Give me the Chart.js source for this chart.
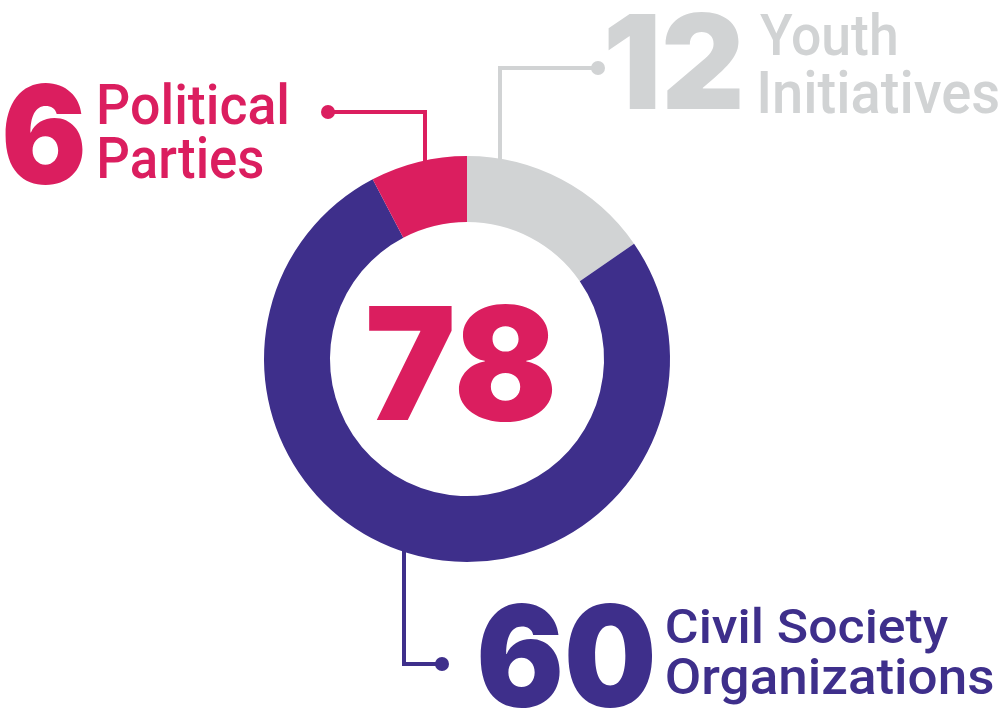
<!DOCTYPE html>
<html>
<head>
<meta charset="utf-8">
<script src="https://cdn.jsdelivr.net/npm/chart.js@4.4.1/dist/chart.umd.min.js"></script>
<style>
  html, body { margin: 0; padding: 0; background: #fff; }
  canvas { display: block; }
</style>
</head>
<body>
<canvas id="groupsChart" width="1008" height="716"></canvas>
<script>
  // data
  const categories = ['Youth Initiatives', 'Civil Society Organizations', 'Political Parties'];
  const counts = [12, 60, 6];
  const colors = ['#D1D3D4', '#3E2F8B', '#DB1E5F'];
  const totalLabel = '78';

  // label boxes (annotation text, not marks)
  const callouts = [
    { num: '12', lines: ['Youth', 'Initiatives'], color: colors[0],
      numBox: [608, 109, 97, 132], textX: 760, caps: 43, gap: 58, base: 55, widths: [136, 238],
      path: [[500, 165], [500, 68], [598, 68]] },
    { num: '60', lines: ['Civil Society', 'Organizations'], color: colors[1],
      numBox: [480, 707, 104, 173], textX: 667, caps: 36, gap: 51, base: 643, widths: [281, 326],
      path: [[404, 545], [404, 664], [442, 664]] },
    { num: '6', lines: ['Political', 'Parties'], color: colors[2],
      numBox: [5, 184, 101, 78], textX: 100, caps: 42, gap: 54, base: 124, widths: [187, 163],
      path: [[425, 165], [425, 112], [328, 112]] }
  ];

  const bigFont = 'Inter, Lato, "Open Sans", sans-serif';
  const smallFont = 'Roboto, "Noto Sans", sans-serif';

  // draw text so that its cap height and width fit the given box
  function fitText(ctx, text, x, baseline, capH, width, weight, family, color) {
    ctx.save();
    ctx.font = weight + ' 100px ' + family;
    const m = ctx.measureText(text);
    const size = 100 * capH / m.actualBoundingBoxAscent;
    ctx.font = weight + ' ' + size + 'px ' + family;
    const m2 = ctx.measureText(text);
    const w = m2.actualBoundingBoxLeft + m2.actualBoundingBoxRight;
    ctx.translate(x, baseline);
    ctx.scale(width / w, 1);
    ctx.fillStyle = color;
    ctx.textBaseline = 'alphabetic';
    ctx.textAlign = 'left';
    ctx.fillText(text, m2.actualBoundingBoxLeft, 0);
    ctx.restore();
  }

  const calloutPlugin = {
    id: 'callouts',
    beforeDatasetsDraw(chart) {
      const ctx = chart.ctx;
      callouts.forEach(c => {
        ctx.save();
        ctx.strokeStyle = c.color;
        ctx.fillStyle = c.color;
        ctx.lineWidth = 4;
        ctx.beginPath();
        c.path.forEach((p, i) => i ? ctx.lineTo(p[0], p[1]) : ctx.moveTo(p[0], p[1]));
        ctx.stroke();
        const end = c.path[c.path.length - 1];
        ctx.beginPath();
        ctx.arc(end[0], end[1], 7, 0, Math.PI * 2);
        ctx.fill();
        ctx.restore();
      });
    },
    afterDatasetsDraw(chart) {
      const ctx = chart.ctx;
      callouts.forEach(c => {
        const [nx, nb, nh, nw] = c.numBox;
        fitText(ctx, c.num, nx, nb, nh, nw, 900, bigFont, c.color);
        c.lines.forEach((t, i) => {
          fitText(ctx, t, c.textX, c.base + i * c.gap, c.caps, c.widths[i], 500, smallFont, c.color);
        });
      });
      // total in the middle
      const arc = chart.getDatasetMeta(0).data[0];
      fitText(ctx, totalLabel, arc.x - 98, 420, 116, 184, 900, bigFont, colors[2]);
    }
  };

  const ctx = document.getElementById('groupsChart').getContext('2d');
  const groupsChart = new Chart(ctx, {
    type: 'doughnut',
    data: {
      labels: categories,
      datasets: [{
        data: counts,
        backgroundColor: colors,
        borderWidth: 0
      }]
    },
    options: {
      responsive: false,
      animation: false,
      cutout: '67.5%',
      layout: {
        padding: { left: 264, right: 338, top: 156, bottom: 154 }
      },
      plugins: {
        legend: { display: false },
        tooltip: { enabled: false }
      }
    },
    plugins: [calloutPlugin]
  });
</script>
</body>
</html>
